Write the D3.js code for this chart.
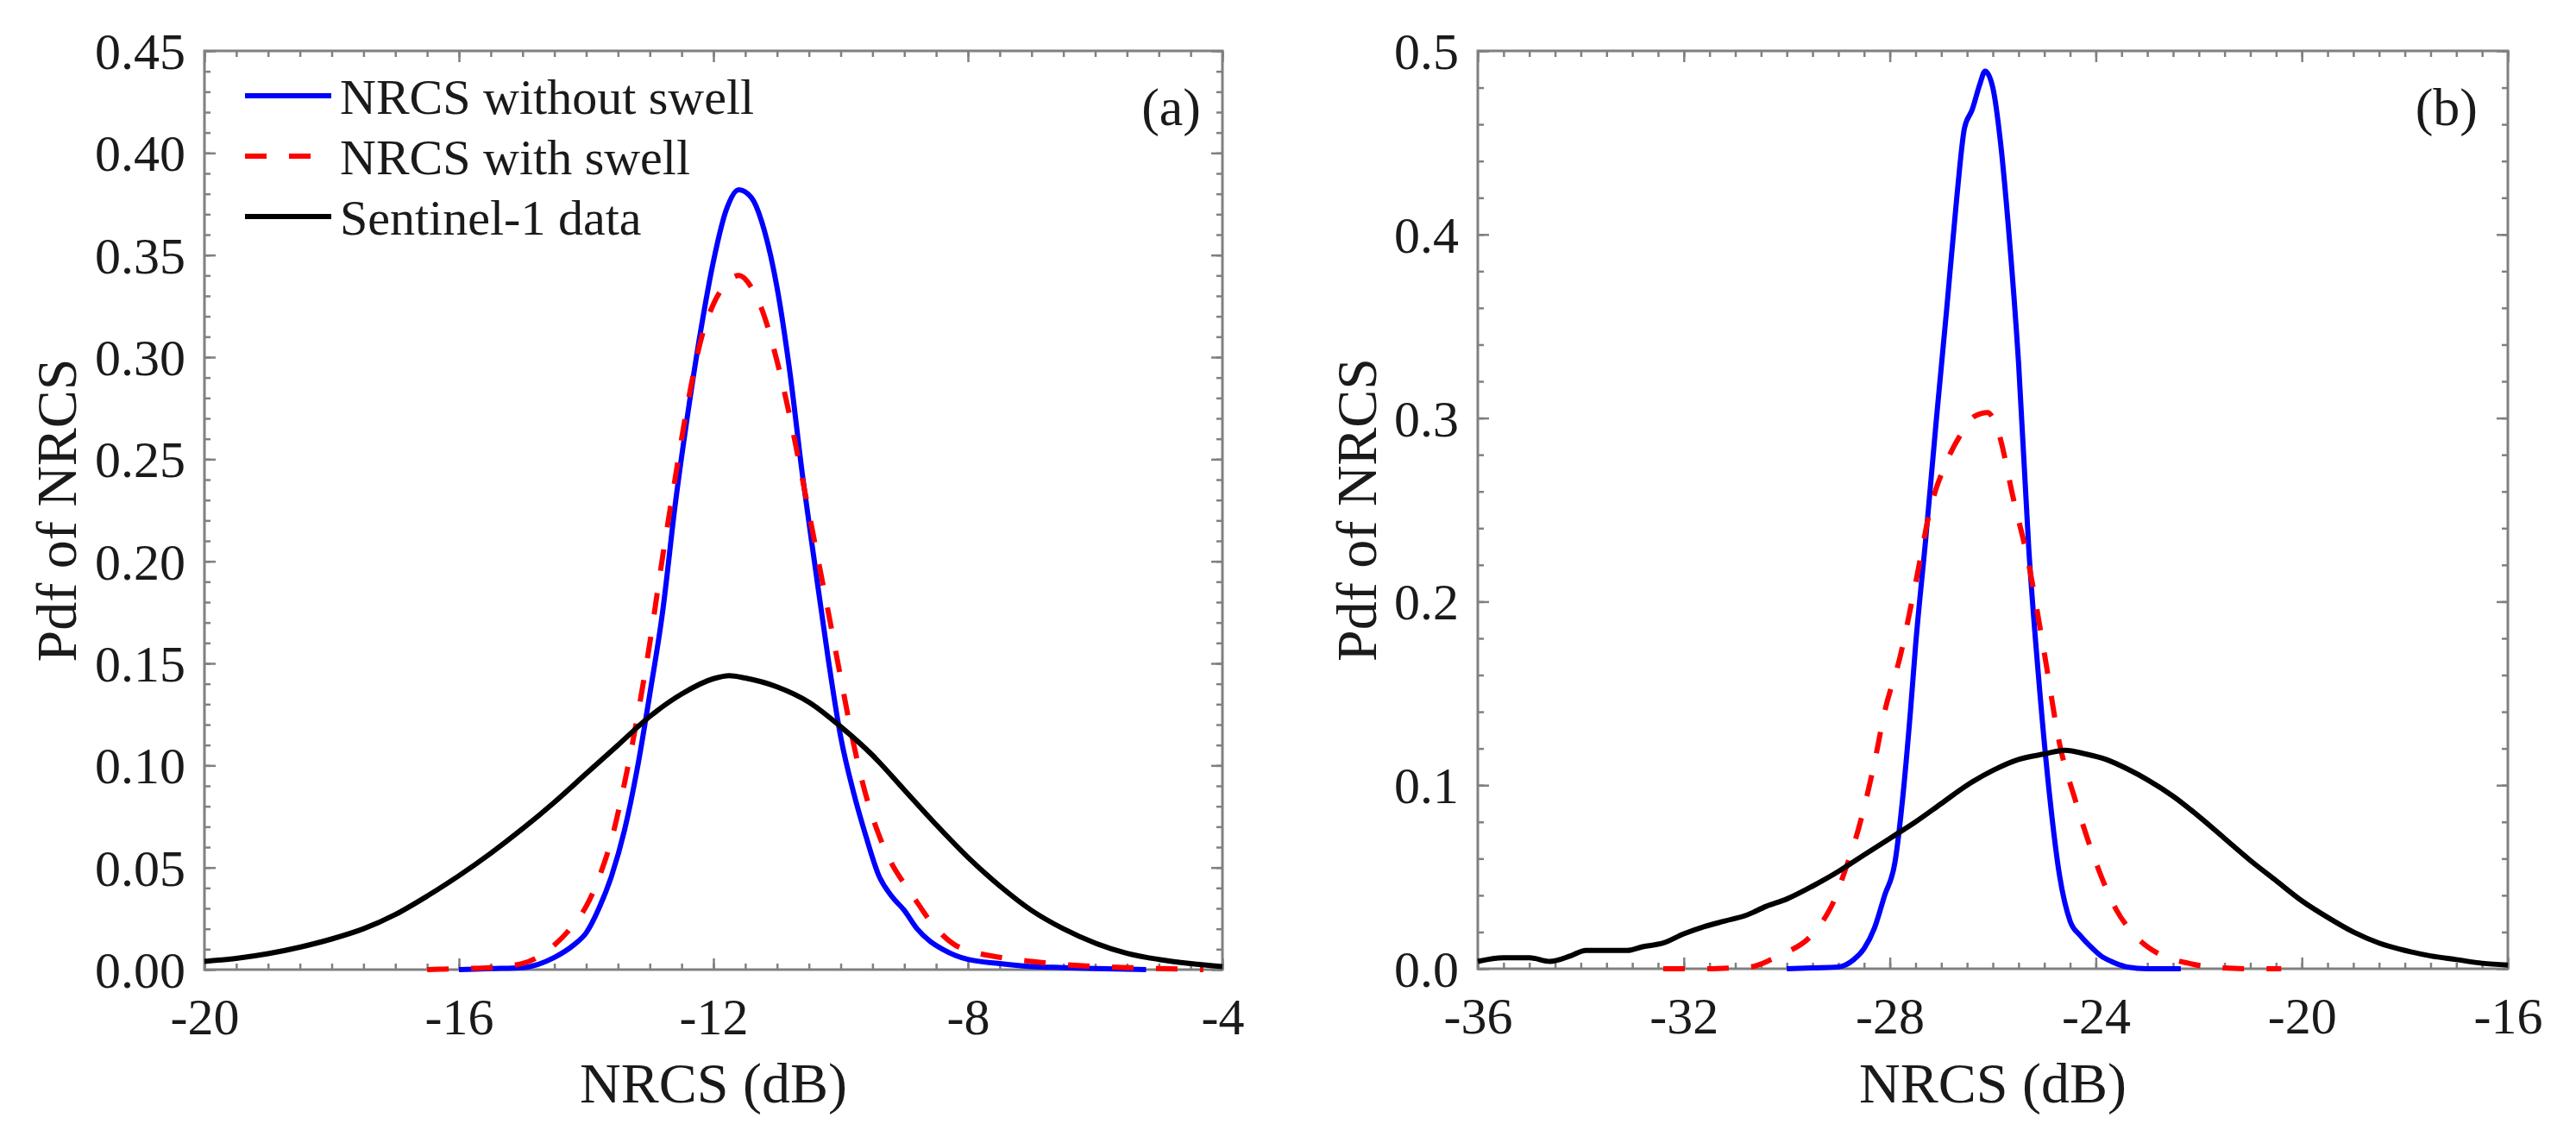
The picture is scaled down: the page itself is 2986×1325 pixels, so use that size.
<!DOCTYPE html>
<html>
<head>
<meta charset="utf-8">
<script src="https://cdn.jsdelivr.net/npm/d3@7"></script>
<style>
  html, body { margin: 0; padding: 0; background: #ffffff; }
  svg { display: block; }
  text { font-family: "Liberation Serif", "Times New Roman", serif; fill: #1a1a1a; }
</style>
</head>
<body>
<svg id="chart" width="2986" height="1325"></svg>
<script>
// ---------------- DATA ----------------
// Panel (a)
const xTicksA = [-20, -16, -12, -8, -4];
const yTicksA = [0, 0.05, 0.10, 0.15, 0.20, 0.25, 0.30, 0.35, 0.40, 0.45];

const aBlueX = [-16.0,-15.5,-15.0,-14.5,-14.2,-14.0,-13.8,-13.6,-13.4,-13.2,-13.0,-12.8,-12.6,-12.4,-12.2,-12.0,-11.8,-11.6,-11.4,-11.2,-11.0,-10.8,-10.6,-10.4,-10.2,-10.0,-9.8,-9.6,-9.4,-9.2,-9.0,-8.8,-8.6,-8.4,-8.2,-8.0,-7.5,-7.0,-6.5,-6.0,-5.2];
const aBlueY = [0,0.0005,0.001,0.006,0.012,0.018,0.030,0.046,0.068,0.098,0.135,0.175,0.228,0.273,0.313,0.347,0.372,0.382,0.378,0.362,0.334,0.293,0.242,0.197,0.153,0.114,0.087,0.065,0.046,0.036,0.029,0.020,0.014,0.010,0.007,0.005,0.003,0.0015,0.001,0.0005,0];

const aRedX = [-16.5,-16.0,-15.5,-15.0,-14.5,-14.2,-14.0,-13.8,-13.6,-13.4,-13.2,-13.0,-12.8,-12.6,-12.4,-12.2,-12.0,-11.8,-11.6,-11.4,-11.2,-11.0,-10.8,-10.6,-10.4,-10.2,-10.0,-9.8,-9.6,-9.4,-9.2,-9.0,-8.8,-8.6,-8.4,-8.2,-8.0,-7.5,-7.0,-6.5,-6.0,-5.5,-5.0,-4.3];
const aRedY = [0,0.0005,0.001,0.003,0.012,0.022,0.031,0.045,0.064,0.091,0.123,0.160,0.202,0.241,0.278,0.308,0.326,0.336,0.340,0.334,0.320,0.298,0.271,0.240,0.208,0.176,0.143,0.111,0.085,0.066,0.052,0.042,0.033,0.024,0.017,0.012,0.0095,0.006,0.004,0.0025,0.0015,0.001,0.0005,0];

const aBlackX = [-20,-19.5,-19,-18.5,-18,-17.5,-17,-16.5,-16,-15.5,-15,-14.5,-14,-13.5,-13,-12.5,-12,-11.75,-11.5,-11,-10.5,-10,-9.5,-9,-8.5,-8,-7.5,-7,-6.5,-6,-5.5,-5,-4.5,-4];
const aBlackY = [0.004,0.0055,0.0078,0.011,0.015,0.020,0.027,0.036,0.046,0.057,0.069,0.082,0.096,0.110,0.124,0.135,0.1425,0.144,0.1428,0.1385,0.131,0.119,0.105,0.088,0.071,0.055,0.041,0.029,0.020,0.013,0.008,0.005,0.003,0.0015];

// Panel (b)
const xTicksB = [-36, -32, -28, -24, -20, -16];
const yTicksB = [0, 0.1, 0.2, 0.3, 0.4, 0.5];

const bBlueX = [-30.0,-29.5,-29.0,-28.7,-28.5,-28.3,-28.1,-27.9,-27.75,-27.6,-27.5,-27.3,-27.1,-26.9,-26.7,-26.55,-26.4,-26.25,-26.15,-26.0,-25.85,-25.7,-25.5,-25.3,-25.1,-24.9,-24.7,-24.5,-24.3,-24.1,-23.9,-23.7,-23.4,-23.0,-22.35];
const bBlueY = [0,0.0005,0.001,0.005,0.011,0.022,0.040,0.058,0.093,0.140,0.176,0.235,0.298,0.358,0.420,0.458,0.468,0.482,0.489,0.480,0.450,0.405,0.330,0.228,0.155,0.095,0.050,0.026,0.018,0.012,0.007,0.004,0.001,0,0];

const bRedX = [-32.4,-31.5,-31.0,-30.7,-30.3,-30.0,-29.6,-29.3,-29.1,-28.9,-28.6,-28.3,-28.1,-27.8,-27.5,-27.2,-26.9,-26.6,-26.35,-26.1,-25.9,-25.6,-25.3,-25.0,-24.7,-24.4,-24.0,-23.6,-23.3,-23.0,-22.6,-22.2,-21.8,-21.0,-20.4];
const bRedY = [0,0,0.0005,0.001,0.005,0.009,0.016,0.026,0.036,0.051,0.077,0.112,0.140,0.170,0.210,0.252,0.276,0.292,0.301,0.303,0.293,0.256,0.220,0.172,0.122,0.092,0.058,0.032,0.020,0.012,0.006,0.003,0.001,0,0];

const bBlackX = [-36,-35.5,-35.0,-34.6,-34.2,-33.9,-33.5,-33.1,-32.8,-32.4,-32.0,-31.6,-31.2,-30.8,-30.4,-30.0,-29.5,-29.0,-28.5,-28.0,-27.5,-27.0,-26.5,-26.0,-25.5,-25.0,-24.6,-24.2,-23.8,-23.4,-23.0,-22.5,-22.0,-21.5,-21.0,-20.5,-20.0,-19.5,-19.0,-18.5,-18.0,-17.5,-17.0,-16.5,-16.0];
const bBlackY = [0.004,0.006,0.006,0.004,0.007,0.010,0.010,0.010,0.012,0.014,0.019,0.023,0.026,0.029,0.034,0.038,0.045,0.053,0.062,0.071,0.080,0.090,0.100,0.108,0.114,0.117,0.119,0.117,0.114,0.109,0.103,0.094,0.083,0.071,0.059,0.048,0.037,0.028,0.020,0.014,0.010,0.007,0.005,0.003,0.002];

const seriesNames = ["NRCS without swell", "NRCS with swell", "Sentinel-1 data"];
const xTitle = "NRCS (dB)";
const yTitle = "Pdf of NRCS";

// ---------------- DRAWING ----------------
const svg = d3.select("#chart");
svg.append("rect").attr("width", 2986).attr("height", 1325).attr("fill", "#ffffff");

const AXIS_COLOR = "#808080";
const FONT_TICK = 60, FONT_TITLE = 66, FONT_LEGEND = 58, FONT_PANEL = 62;
const FONT_FAMILY = '"Liberation Serif", "Times New Roman", serif';

function zip(xs, ys) { return xs.map((x, i) => [x, ys[i]]); }

function drawPanel(cfg) {
  const x = d3.scaleLinear().domain(cfg.xDomain).range([cfg.left, cfg.right]);
  const y = d3.scaleLinear().domain(cfg.yDomain).range([cfg.bottom, cfg.top]);
  const g = svg.append("g");

  const xMinor = d3.range(cfg.xDomain[0], cfg.xDomain[1] + 1e-9, cfg.xMinorStep);
  const yMinor = d3.range(cfg.yDomain[0], cfg.yDomain[1] + 1e-9, cfg.yMinorStep);

  function styleAxis(sel) {
    sel.select(".domain").remove();
    sel.selectAll(".tick line").attr("stroke", AXIS_COLOR).attr("stroke-width", 2.5);
  }

  // minor ticks on all sides
  g.append("g").attr("transform", `translate(0,${cfg.bottom})`)
    .call(d3.axisBottom(x).tickValues(xMinor).tickSize(-7).tickFormat("")).call(styleAxis);
  g.append("g").attr("transform", `translate(0,${cfg.top})`)
    .call(d3.axisTop(x).tickValues(xMinor).tickSize(-7).tickFormat("")).call(styleAxis);
  g.append("g").attr("transform", `translate(${cfg.left},0)`)
    .call(d3.axisLeft(y).tickValues(yMinor).tickSize(-7).tickFormat("")).call(styleAxis);
  g.append("g").attr("transform", `translate(${cfg.right},0)`)
    .call(d3.axisRight(y).tickValues(yMinor).tickSize(-7).tickFormat("")).call(styleAxis);

  // major ticks
  const bx = g.append("g").attr("transform", `translate(0,${cfg.bottom})`)
    .call(d3.axisBottom(x).tickValues(cfg.xTicks).tickSize(-13).tickFormat(d => String(d))).call(styleAxis);
  bx.selectAll("text").attr("y", 75).attr("dy", null)
    .style("font-size", FONT_TICK + "px").attr("fill", "#1a1a1a")
    .style("font-family", FONT_FAMILY);
  g.append("g").attr("transform", `translate(0,${cfg.top})`)
    .call(d3.axisTop(x).tickValues(cfg.xTicks).tickSize(-13).tickFormat("")).call(styleAxis);
  const ly = g.append("g").attr("transform", `translate(${cfg.left},0)`)
    .call(d3.axisLeft(y).tickValues(cfg.yTicks).tickSize(-13).tickFormat(d3.format(cfg.yFmt))).call(styleAxis);
  ly.selectAll("text").attr("x", -22).attr("dy", "0.34em")
    .style("font-size", FONT_TICK + "px").attr("fill", "#1a1a1a")
    .style("font-family", FONT_FAMILY);
  g.append("g").attr("transform", `translate(${cfg.right},0)`)
    .call(d3.axisRight(y).tickValues(cfg.yTicks).tickSize(-13).tickFormat("")).call(styleAxis);

  // frame
  g.append("rect")
    .attr("x", cfg.left).attr("y", cfg.top)
    .attr("width", cfg.right - cfg.left).attr("height", cfg.bottom - cfg.top)
    .attr("fill", "none").attr("stroke", AXIS_COLOR).attr("stroke-width", 3);

  // curves
  const line = d3.line().x(d => x(d[0])).y(d => y(d[1])).curve(d3.curveMonotoneX);
  const curves = [
    { data: zip(cfg.blueX, cfg.blueY), color: "#0000ff", dash: null },
    { data: zip(cfg.redX, cfg.redY), color: "#ff0000", dash: "25,26" },
    { data: zip(cfg.blackX, cfg.blackY), color: "#000000", dash: null }
  ];
  g.selectAll("path.curve").data(curves).join("path")
    .attr("class", "curve")
    .attr("d", d => line(d.data))
    .attr("fill", "none")
    .attr("stroke", d => d.color)
    .attr("stroke-width", 6)
    .attr("stroke-linejoin", "round")
    .attr("stroke-dasharray", d => d.dash);

  // axis titles
  g.append("text")
    .attr("x", (cfg.left + cfg.right) / 2).attr("y", 1278)
    .attr("text-anchor", "middle").style("font-size", FONT_TITLE + "px")
    .text(xTitle);
  g.append("text")
    .attr("transform", `translate(${cfg.yTitleX},${(cfg.top + cfg.bottom) / 2}) rotate(-90)`)
    .attr("text-anchor", "middle").style("font-size", FONT_TITLE + "px")
    .text(yTitle);

  // panel label
  g.append("text")
    .attr("x", cfg.labelX).attr("y", 145)
    .attr("text-anchor", "end").style("font-size", FONT_PANEL + "px")
    .text(cfg.label);

  return { g, x, y };
}

const pA = drawPanel({
  left: 237, right: 1417, top: 59, bottom: 1124,
  xDomain: [-20, -4], yDomain: [0, 0.45],
  xTicks: xTicksA, yTicks: yTicksA, xMinorStep: 0.5, yMinorStep: 0.01, yFmt: ".2f",
  blueX: aBlueX, blueY: aBlueY, redX: aRedX, redY: aRedY, blackX: aBlackX, blackY: aBlackY,
  yTitleX: 88, label: "(a)", labelX: 1392
});

drawPanel({
  left: 1713, right: 2907, top: 59, bottom: 1123,
  xDomain: [-36, -16], yDomain: [0, 0.5],
  xTicks: xTicksB, yTicks: yTicksB, xMinorStep: 0.5, yMinorStep: 0.02, yFmt: ".1f",
  blueX: bBlueX, blueY: bBlueY, redX: bRedX, redY: bRedY, blackX: bBlackX, blackY: bBlackY,
  yTitleX: 1595, label: "(b)", labelX: 2872
});

// legend (panel a)
const legendColors = ["#0000ff", "#ff0000", "#000000"];
const legendDash = [null, "25,26", null];
const legendRowY = d3.scalePoint().domain(seriesNames).range([111, 251]);
const leg = pA.g.append("g");
const rows = leg.selectAll("g.row").data(seriesNames).join("g")
  .attr("class", "row")
  .attr("transform", d => `translate(0,${legendRowY(d)})`);
rows.append("line")
  .attr("x1", 284).attr("x2", 384).attr("y1", 0).attr("y2", 0)
  .attr("stroke", (d, i) => legendColors[i])
  .attr("stroke-width", 6)
  .attr("stroke-dasharray", (d, i) => legendDash[i]);
rows.append("text")
  .attr("x", 394).attr("y", 21)
  .style("font-size", FONT_LEGEND + "px")
  .text(d => d);
</script>
</body>
</html>
